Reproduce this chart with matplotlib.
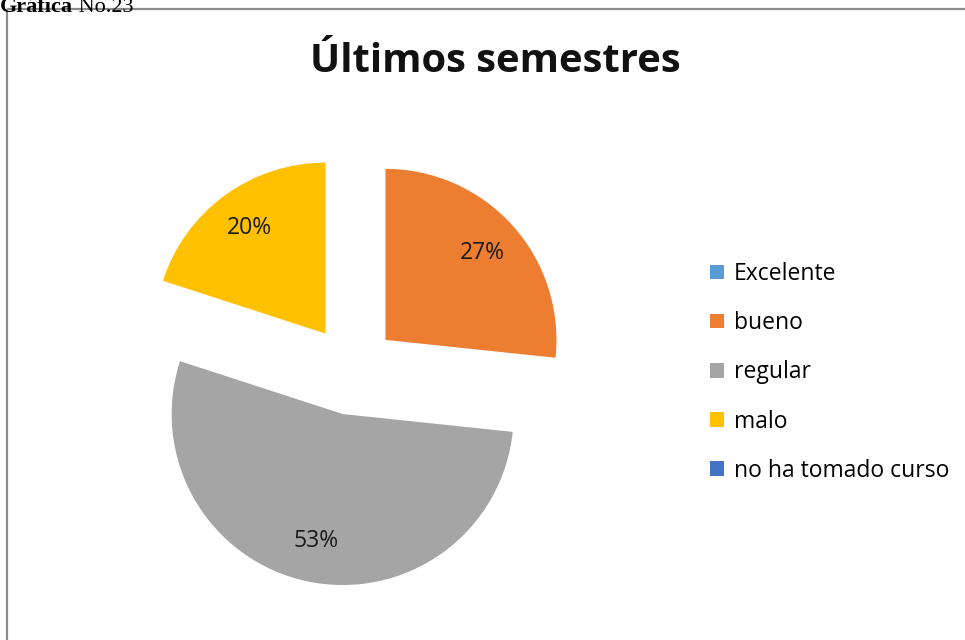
import matplotlib
matplotlib.use("Agg")
import matplotlib.pyplot as plt

categories = ["Excelente", "bueno", "regular", "malo", "no ha tomado curso"]
counts = [0, 4, 8, 3, 0]
colors = ["#5B9BD5", "#ED7D31", "#A5A5A5", "#FFC000", "#4472C4"]
title = "Últimos semestres"
header_bold = "Gráfica"
header_rest = " No.23"

W, H = 965, 640
fig = plt.figure(figsize=(W / 100, H / 100), dpi=100)
ax = fig.add_axes([0, 0, 1, 1])

def fmt(p):
    return f"{p:.0f}%" if p > 0 else ""

wedges, texts, autotexts = ax.pie(
    counts, colors=colors, startangle=90, counterclock=False,
    center=(352, H - 370), radius=171, explode=[45] * len(counts),
    autopct=fmt, pctdistance=0.76, frame=True,
    textprops=dict(fontsize=16.5, family="Open Sans", color="#1a1a1a"),
    wedgeprops=dict(linewidth=0),
)
ax.set_xlim(0, W)
ax.set_ylim(0, H)
ax.set_aspect("equal")
ax.axis("off")

# frame of the chart area
ax.plot([6.5, 6.5], [0, H - 8.5], color="#8c8c8c", lw=1.6, solid_capstyle="butt")
ax.plot([6.5, W], [H - 8.5, H - 8.5], color="#8c8c8c", lw=1.6, solid_capstyle="butt")

# header (cut off at top of the image, as in the source)
t1 = ax.text(0, H - 12, header_bold, family="Liberation Serif", fontweight="bold",
             fontsize=16, va="baseline", ha="left")
fig.canvas.draw()
bb = t1.get_window_extent()
ax.text(bb.x1, H - 12, header_rest, family="Liberation Serif", fontsize=16,
        va="baseline", ha="left")

ax.text(495, H - 72, title, ha="center", va="baseline", fontsize=28.8,
        fontweight="bold", family="Open Sans", color="#111111")

leg = ax.legend(
    wedges, categories, loc="upper left",
    bbox_to_anchor=(710 / W, 1 - 262 / H), frameon=False,
    prop=dict(family="Open Sans", size=16.5),
    handlelength=0.6, handleheight=0.6, handletextpad=0.45,
    labelspacing=1.1, borderpad=0, borderaxespad=0,
)

fig.savefig("out.png", dpi=100, facecolor="white")
